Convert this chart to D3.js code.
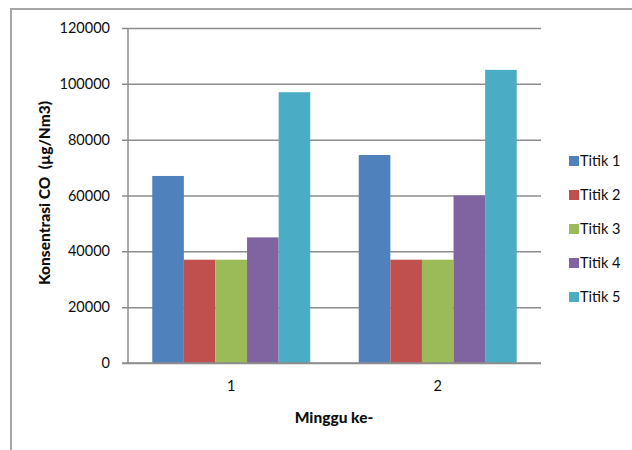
<!DOCTYPE html>
<html>
<head>
<meta charset="utf-8">
<script src="https://cdn.jsdelivr.net/npm/d3@7/dist/d3.min.js"></script>
<style>
  html, body { margin: 0; padding: 0; background: #fff; }
  svg { display: block; }
  text { font-family: Lato, "Open Sans", "Liberation Sans", sans-serif; fill: #0d0d0d; }
</style>
</head>
<body>
<svg id="chart" width="632" height="450"></svg>
<script>
// Weekly CO concentration at five sampling points
const weeks = ["1", "2"];
const seriesNames = ["Titik 1", "Titik 2", "Titik 3", "Titik 4", "Titik 5"];
const titik1 = [67000, 74500];
const titik2 = [37000, 37000];
const titik3 = [37000, 37000];
const titik4 = [45000, 60000];
const titik5 = [97000, 105000];
const yTicks = [0, 20000, 40000, 60000, 80000, 100000, 120000];
const colors = ["#4f81bd", "#c0504d", "#9bbb59", "#8064a2", "#4bacc6"];

const seriesValues = [titik1, titik2, titik3, titik4, titik5];

const svg = d3.select("#chart");

const plot = { left: 128, right: 541, top: 28, bottom: 363 };

// Outer chart frame (top and left edges)
svg.append("path")
  .attr("d", "M11,450 V9 H632")
  .attr("fill", "none")
  .attr("stroke", "#a6a6a6")
  .attr("stroke-width", 2);

const y = d3.scaleLinear().domain([0, 120000]).range([plot.bottom, plot.top]);
const x0 = d3.scaleBand().domain(weeks).range([plot.left, plot.right]).paddingInner(0.235).paddingOuter(0.1175);
const x1 = d3.scaleBand().domain(seriesNames).range([0, x0.bandwidth()]);

// Horizontal gridlines with tick marks on the left of the axis
const yAxis = d3.axisLeft(y)
  .tickValues(yTicks)
  .tickFormat(d3.format("d"))
  .tickSize(-(plot.right - plot.left))
  .tickPadding(18);

const gy = svg.append("g")
  .attr("transform", `translate(${plot.left},0)`)
  .call(yAxis);
gy.select(".domain").remove();
gy.selectAll(".tick line")
  .attr("x1", -6)
  .attr("stroke", "#8c8c8c")
  .attr("stroke-width", 1.5);
gy.selectAll(".tick text")
  .attr("font-size", 14.5)
  .attr("fill", "#0d0d0d")
  .style("font-family", "Lato, 'Open Sans', sans-serif");

// Bars
const groups = svg.append("g").selectAll("g")
  .data(weeks)
  .join("g")
  .attr("transform", d => `translate(${x0(d)},0)`);

groups.selectAll("rect")
  .data((w, i) => seriesNames.map((s, j) => ({ s, j, v: seriesValues[j][i] })))
  .join("rect")
  .attr("x", d => x1(d.s))
  .attr("width", x1.bandwidth())
  .attr("y", d => y(d.v))
  .attr("height", d => y(0) - y(d.v))
  .attr("fill", d => colors[d.j]);

// Vertical axis line and baseline
svg.append("line")
  .attr("x1", plot.left).attr("x2", plot.left)
  .attr("y1", plot.top).attr("y2", plot.bottom)
  .attr("stroke", "#8c8c8c").attr("stroke-width", 1.5);
svg.append("line")
  .attr("x1", plot.left - 6).attr("x2", plot.right)
  .attr("y1", plot.bottom).attr("y2", plot.bottom)
  .attr("stroke", "#8c8c8c").attr("stroke-width", 1.5);

// Category labels
const xAxis = d3.axisBottom(x0).tickSize(0).tickPadding(18);
const gx = svg.append("g")
  .attr("transform", `translate(0,${plot.bottom})`)
  .call(xAxis);
gx.select(".domain").remove();
gx.selectAll(".tick text")
  .attr("font-size", 14.5)
  .attr("fill", "#0d0d0d")
  .style("font-family", "Lato, 'Open Sans', sans-serif");

// Axis titles
svg.append("text")
  .attr("x", 334).attr("y", 423)
  .attr("text-anchor", "middle")
  .attr("font-size", 15.5)
  .attr("font-weight", 900)
  .text("Minggu ke-");

svg.append("text")
  .attr("transform", "translate(50,193) rotate(-90)")
  .attr("text-anchor", "middle")
  .attr("font-size", 15.5)
  .attr("font-weight", 900)
  .style("white-space", "pre")
  .text("Konsentrasi CO  (µg/Nm3)");

// Legend
const legend = svg.append("g").selectAll("g")
  .data(seriesNames)
  .join("g")
  .attr("transform", (d, i) => `translate(569,${161 + i * 34})`);
legend.append("rect")
  .attr("x", 0).attr("y", -5)
  .attr("width", 10).attr("height", 10)
  .attr("fill", (d, i) => colors[i]);
legend.append("text")
  .attr("x", 11).attr("y", 0)
  .attr("dy", "0.35em")
  .attr("font-size", 14.5)
  .text(d => d);
</script>
</body>
</html>
